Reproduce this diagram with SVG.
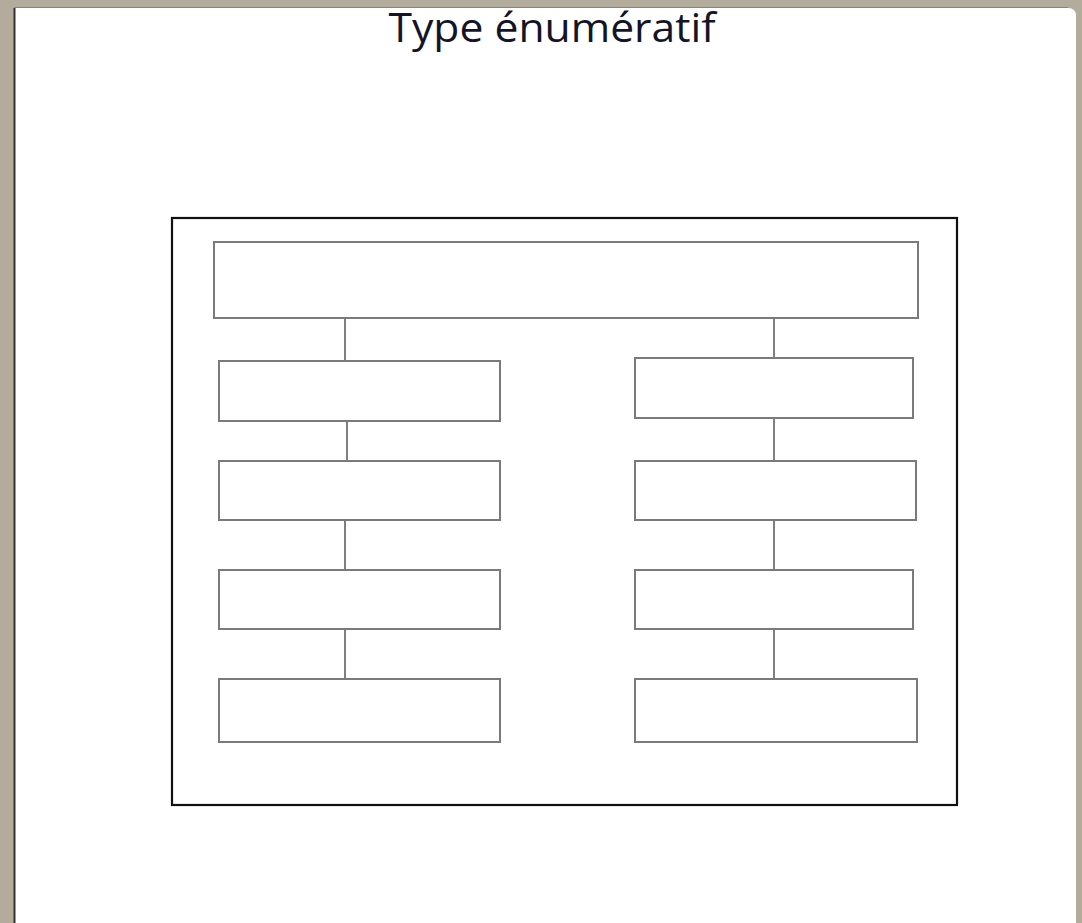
<svg xmlns="http://www.w3.org/2000/svg" width="1082" height="923" viewBox="0 0 1082 923">
<style>
.box{fill:#fff;stroke:#7a7a7a;stroke-width:2}
.conn line{stroke:#555;stroke-width:1.5}
.frame{fill:none;stroke:#111;stroke-width:2.2}
.title{font-family:"Open Sans","Liberation Sans",sans-serif;font-size:40px;font-weight:normal;fill:#141428}
</style>
<rect x="0" y="0" width="1082" height="923" fill="#b3ab9c"/>
<path d="M14 8 H1068 Q1076 8 1076 16 V923 H14 Z" fill="#fff"/>
<line x1="14.5" y1="8" x2="14.5" y2="923" stroke="#333" stroke-width="2"/>
<line x1="14" y1="7.5" x2="1068" y2="7.5" stroke="#8a8478" stroke-width="1"/>
<text class="title" x="552" y="42" text-anchor="middle" textLength="327" lengthAdjust="spacingAndGlyphs">Type énumératif</text>
<rect class="frame" x="172" y="218" width="785" height="587"/>
<g class="conn">
<line x1="345" y1="318" x2="345" y2="361"/>
<line x1="347" y1="421" x2="347" y2="461"/>
<line x1="345" y1="520" x2="345" y2="570"/>
<line x1="345" y1="629" x2="345" y2="679"/>
<line x1="774" y1="318" x2="774" y2="358"/>
<line x1="774" y1="418" x2="774" y2="461"/>
<line x1="774" y1="520" x2="774" y2="570"/>
<line x1="774" y1="629" x2="774" y2="679"/>
</g>
<g id="top"><rect class="box" x="214" y="242" width="704" height="76"/></g>
<g id="l1"><rect class="box" x="219" y="361" width="281" height="60"/></g>
<g id="l2"><rect class="box" x="219" y="461" width="281" height="59"/></g>
<g id="l3"><rect class="box" x="219" y="570" width="281" height="59"/></g>
<g id="l4"><rect class="box" x="219" y="679" width="281" height="63"/></g>
<g id="r1"><rect class="box" x="635" y="358" width="278" height="60"/></g>
<g id="r2"><rect class="box" x="635" y="461" width="281" height="59"/></g>
<g id="r3"><rect class="box" x="635" y="570" width="278" height="59"/></g>
<g id="r4"><rect class="box" x="635" y="679" width="282" height="63"/></g>
</svg>
